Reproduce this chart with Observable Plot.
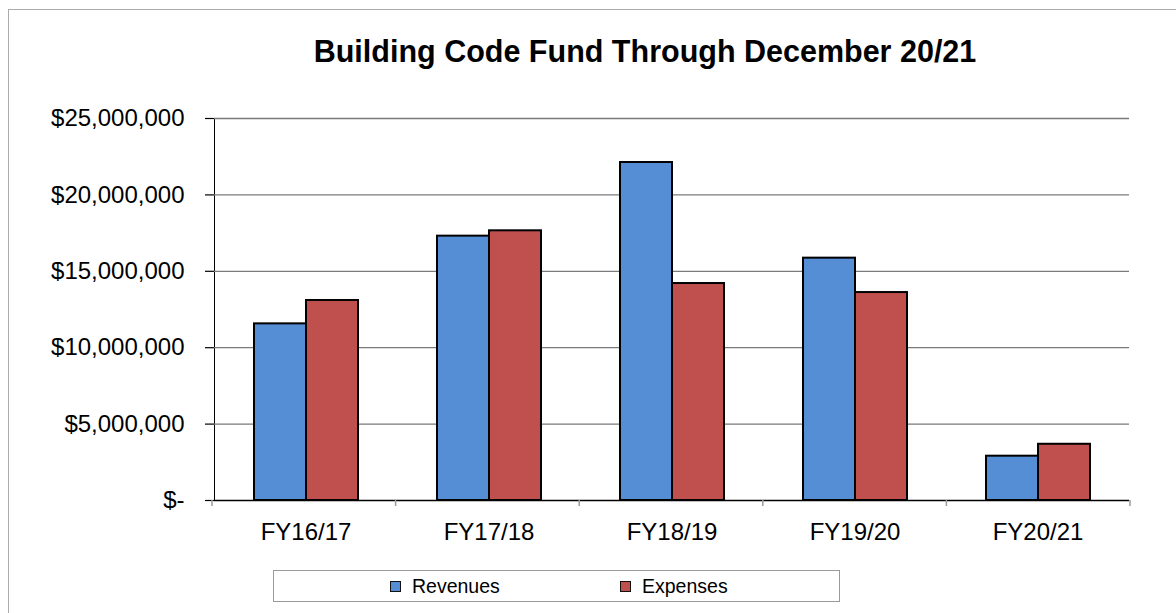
<!DOCTYPE html>
<html>
<head>
<meta charset="utf-8">
<script src="https://cdn.jsdelivr.net/npm/d3@7"></script>
<script src="https://cdn.jsdelivr.net/npm/@observablehq/plot@0.6"></script>
<style>
  html, body { margin: 0; padding: 0; background: #fff; }
  body { width: 1176px; height: 613px; position: relative; overflow: hidden; font-family: "Liberation Sans", Arial, sans-serif; }
  #frame { position: absolute; left: 8px; top: 9px; width: 1400px; height: 800px; border: 1px solid #ababab; box-sizing: border-box; }
  #title { position: absolute; left: 0; width: 1290px; top: 34px; text-align: center; font-weight: bold; font-size: 30.5px; line-height: 34px; color: #000; margin: 0; white-space: nowrap; }
  #chart { position: absolute; left: 0; top: 0; }
  #chart svg { overflow: visible; }
  #chart g[aria-label^="fx-axis"] text { font-size: 24px; }
  #chart g[aria-label^="y-axis"] text { font-size: 24px; }
  #chart g[aria-label^="y-axis"] line, #chart g[aria-label^="y-axis"] path { stroke-width: 1.2; }
  #legend { position: absolute; left: 273px; top: 570px; width: 567px; height: 32px; border: 1px solid #9a9a9a; box-sizing: border-box; }
  .item { position: absolute; top: 0; height: 30px; display: flex; align-items: center; font-size: 19.5px; color: #000; }
  .swatch { width: 9px; height: 9px; border: 1.5px solid #111; box-sizing: content-box; margin-right: 11px; }
</style>
</head>
<body>
<div id="frame"></div>
<div id="title">Building Code Fund Through December 20/21</div>
<div id="chart"></div>
<div id="legend"></div>
<script>
const categories = ["FY16/17", "FY17/18", "FY18/19", "FY19/20", "FY20/21"];
const seriesNames = ["Revenues", "Expenses"];
const revenues = [11560000, 17300000, 22120000, 15860000, 2900000];
const expenses = [13090000, 17650000, 14200000, 13610000, 3680000];
const yTicks = [0, 5000000, 10000000, 15000000, 20000000, 25000000];
const seriesColors = ["#558ED5", "#C0504D"];

const rows = [];
categories.forEach((c, i) => {
  rows.push({category: c, series: seriesNames[0], value: revenues[i]});
  rows.push({category: c, series: seriesNames[1], value: expenses[i]});
});

const fmt = d => d === 0 ? "$-" : "$" + d3.format(",")(d);

const plot = Plot.plot({
  width: 1176,
  height: 560,
  marginTop: 118,
  marginBottom: 60,
  marginLeft: 212,
  marginRight: 46,
  style: {fontFamily: "'Liberation Sans', Arial, sans-serif", color: "#000", background: "transparent"},
  facet: {data: rows, x: "category"},
  fx: {domain: categories, paddingInner: 0, paddingOuter: 0, label: null, tickSize: 0, tickPadding: 22, axis: "bottom"},
  x: {domain: seriesNames, paddingInner: 0, paddingOuter: 0.749, axis: null},
  y: {domain: [0, 25000000], ticks: yTicks, tickFormat: fmt, tickSize: 9, tickPadding: 21, label: null, line: true},
  color: {domain: seriesNames, range: seriesColors},
  marks: [
    Plot.ruleY(yTicks.slice(1), {stroke: "#7a7a7a", strokeWidth: 1.3}),
    Plot.barY(rows, {x: "series", y: "value", fill: "series", stroke: "#000", strokeWidth: 2}),
    Plot.ruleY([0], {stroke: "#000", strokeWidth: 1.5})
  ]
});
document.getElementById("chart").appendChild(plot);

// category boundary ticks on the x axis, from the fx scale
const fx = plot.scale("fx");
const band = d3.scaleBand().domain(fx.domain).range(fx.range).paddingInner(0).paddingOuter(0);
const yScale = plot.scale("y");
const y0 = d3.scaleLinear().domain(yScale.domain).range(yScale.range)(0);
const bounds = categories.map(c => band(c)).concat([band(categories[categories.length - 1]) + band.step()]);
d3.select(plot).append("g").attr("aria-label", "x boundary ticks")
  .selectAll("line").data(bounds).join("line")
  .attr("x1", d => d).attr("x2", d => d)
  .attr("y1", y0).attr("y2", y0 + 6)
  .attr("stroke", "#999").attr("stroke-width", 1.5);
d3.select(plot).selectAll('g[aria-label^="y-axis"] line').attr("stroke", "#888");

// legend
const legend = document.getElementById("legend");
const lefts = [116, 346];
seriesNames.forEach((name, i) => {
  const item = document.createElement("div");
  item.className = "item";
  item.style.left = lefts[i] + "px";
  const sw = document.createElement("span");
  sw.className = "swatch";
  sw.style.background = seriesColors[i];
  const t = document.createElement("span");
  t.textContent = name;
  item.appendChild(sw);
  item.appendChild(t);
  legend.appendChild(item);
});
</script>
</body>
</html>
